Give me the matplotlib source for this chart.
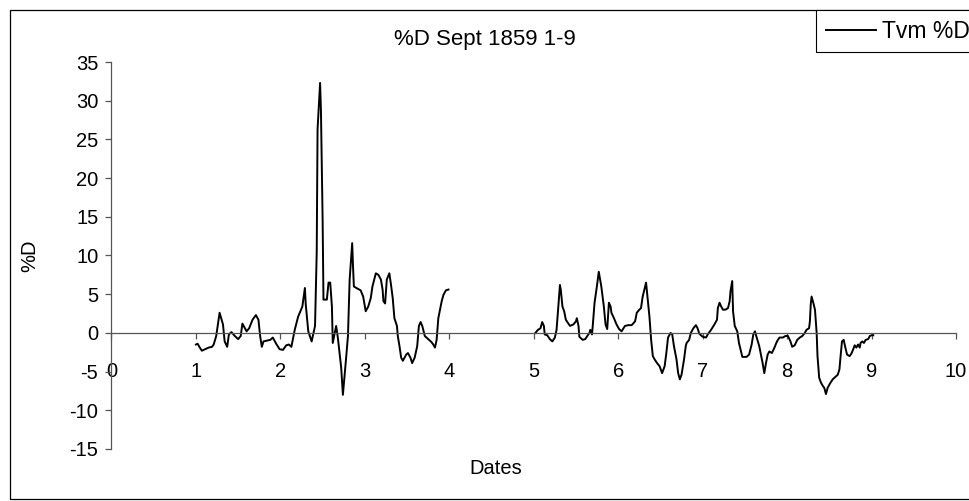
"""
%D Sept 1859 1-9 -- Excel-style line chart, x axis crossing at y=0.
Saves out.png (970x501).
"""

import matplotlib
matplotlib.use("Agg")
import matplotlib.pyplot as plt
from matplotlib.patches import Rectangle

plt.rcParams["font.family"] = ["Liberation Sans", "DejaVu Sans"]
plt.rcParams["axes.unicode_minus"] = False

# days 1-4
dates_a = [1.00, 1.02, 1.04, 1.07, 1.11, 1.15, 1.19, 1.21, 1.24, 1.28,
           1.32, 1.34, 1.37, 1.39, 1.42, 1.46, 1.50, 1.53, 1.55, 1.57,
           1.60, 1.63, 1.67, 1.71, 1.74, 1.76, 1.78, 1.80, 1.84, 1.88,
           1.91, 1.95, 1.99, 2.03, 2.07, 2.10, 2.13, 2.17, 2.21, 2.26,
           2.29, 2.30, 2.33, 2.37, 2.41, 2.43, 2.44, 2.47, 2.48, 2.50,
           2.51, 2.55, 2.57, 2.59, 2.61, 2.62, 2.66, 2.68, 2.72, 2.74,
           2.78, 2.80, 2.82, 2.85, 2.86, 2.87, 2.90, 2.95, 2.98, 3.01,
           3.04, 3.07, 3.09, 3.13, 3.16, 3.19, 3.21, 3.22, 3.24, 3.26,
           3.29, 3.31, 3.33, 3.35, 3.38, 3.39, 3.41, 3.43, 3.45, 3.49,
           3.51, 3.54, 3.56, 3.59, 3.62, 3.64, 3.66, 3.68, 3.71, 3.73,
           3.76, 3.79, 3.81, 3.83, 3.85, 3.87, 3.89, 3.91, 3.93, 3.96,
           3.99]
pct_a = [-1.5, -1.4, -1.8, -2.3, -2.1, -1.9, -1.8, -1.5, -0.4, 2.6,
         1.1, -1.1, -1.8, -0.2, 0.1, -0.4, -0.8, -0.4, 1.2, 0.8,
         0.2, 0.6, 1.7, 2.3, 1.7, -0.4, -1.8, -1.1, -1.0, -0.9,
         -0.6, -1.4, -2.1, -2.2, -1.6, -1.5, -1.8, 0.4, 2.1, 3.4,
         5.8, 3.7, 0.2, -1.1, 0.9, 10.4, 26.3, 32.3, 28.8, 14.6,
         4.3, 4.3, 6.5, 6.5, 3.4, -1.3, 0.9, -0.6, -4.5, -8.0,
         -3.0, -0.4, 6.9, 11.6, 8.6, 6.0, 5.8, 5.5, 4.7, 2.8,
         3.4, 4.5, 6.0, 7.7, 7.5, 6.9, 5.6, 4.1, 3.8, 6.9,
         7.7, 6.2, 4.5, 1.9, 0.9, -0.4, -1.7, -3.2, -3.6, -2.8,
         -2.6, -3.2, -3.9, -3.2, -1.7, 0.9, 1.4, 0.9, -0.4, -0.6,
         -0.9, -1.2, -1.5, -1.9, -0.9, 1.9, 3.0, 4.1, 4.9, 5.5,
         5.6]

# days 5-9
dates_b = [5.02, 5.05, 5.08, 5.10, 5.12, 5.13, 5.16, 5.19, 5.22, 5.25,
           5.27, 5.29, 5.30, 5.31, 5.32, 5.34, 5.36, 5.38, 5.41, 5.43,
           5.47, 5.50, 5.51, 5.53, 5.54, 5.58, 5.61, 5.64, 5.66, 5.67,
           5.69, 5.70, 5.72, 5.75, 5.77, 5.80, 5.83, 5.85, 5.87, 5.89,
           5.91, 5.92, 5.95, 5.98, 6.01, 6.04, 6.08, 6.12, 6.16, 6.20,
           6.22, 6.25, 6.27, 6.29, 6.33, 6.35, 6.37, 6.39, 6.41, 6.43,
           6.46, 6.49, 6.52, 6.55, 6.57, 6.59, 6.62, 6.64, 6.66, 6.69,
           6.71, 6.73, 6.75, 6.78, 6.80, 6.81, 6.84, 6.86, 6.89, 6.92,
           6.94, 6.96, 7.00, 7.04, 7.06, 7.10, 7.14, 7.17, 7.18, 7.20,
           7.22, 7.24, 7.27, 7.30, 7.32, 7.33, 7.35, 7.36, 7.38, 7.41,
           7.43, 7.45, 7.47, 7.52, 7.55, 7.58, 7.60, 7.62, 7.64, 7.67,
           7.69, 7.71, 7.73, 7.75, 7.77, 7.79, 7.82, 7.85, 7.88, 7.91,
           7.95, 7.98, 8.01, 8.04, 8.06, 8.09, 8.12, 8.15, 8.18, 8.21,
           8.23, 8.26, 8.27, 8.28, 8.29, 8.31, 8.33, 8.35, 8.36, 8.38,
           8.40, 8.42, 8.44, 8.46, 8.48, 8.51, 8.54, 8.57, 8.60, 8.62,
           8.63, 8.65, 8.67, 8.69, 8.71, 8.74, 8.76, 8.78, 8.80, 8.82,
           8.84, 8.86, 8.87, 8.89, 8.91, 8.93, 8.96, 8.98, 9.00, 9.02]
pct_b = [0.0, 0.4, 0.6, 1.4, 0.9, -0.2, -0.3, -0.8, -1.1, -0.6,
         0.4, 3.2, 4.7, 6.2, 5.6, 3.4, 2.8, 1.7, 1.2, 0.9,
         1.1, 1.5, 1.9, 0.9, -0.5, -0.9, -0.8, -0.3, 0.0, 0.4,
         -0.2, 1.1, 3.9, 6.2, 7.9, 6.0, 3.4, 1.1, 0.5, 3.9,
         3.4, 2.6, 1.9, 1.1, 0.5, 0.2, 0.9, 1.0, 1.0, 1.5,
         2.6, 3.0, 3.2, 4.7, 6.5, 4.3, 2.1, -0.9, -3.0, -3.4,
         -3.9, -4.3, -5.2, -4.3, -2.6, -0.6, 0.0, -0.2, -1.7, -3.4,
         -5.2, -6.0, -5.4, -3.4, -1.7, -1.3, -0.9, 0.0, 0.6, 1.0,
         0.6, -0.1, -0.5, -0.6, -0.2, 0.4, 1.1, 1.7, 3.2, 3.9,
         3.4, 3.0, 3.0, 3.2, 4.1, 5.4, 6.7, 2.8, 0.9, 0.2,
         -1.3, -2.2, -3.1, -3.1, -2.8, -1.5, -0.2, 0.2, -0.6, -1.7,
         -2.8, -3.9, -5.2, -3.9, -2.8, -2.4, -2.6, -1.9, -1.1, -0.6,
         -0.6, -0.4, -0.4, -1.1, -1.8, -1.6, -0.9, -0.6, -0.4, 0.0,
         0.4, 0.6, 1.5, 3.7, 4.7, 3.9, 3.0, 0.0, -3.0, -5.8,
         -6.4, -6.8, -7.1, -7.9, -7.1, -6.5, -6.0, -5.7, -5.4, -4.7,
         -3.4, -1.1, -0.9, -1.9, -2.8, -3.0, -2.7, -2.2, -1.6, -1.9,
         -1.5, -1.9, -1.3, -1.1, -1.3, -0.9, -0.8, -0.4, -0.3, -0.3]

x_ticks = list(range(0, 11))
y_ticks = list(range(-15, 40, 5))

FS = 14.5

W, H = 970, 501
fig = plt.figure(figsize=(W / 100, H / 100), dpi=100)
fig.patch.set_facecolor("white")

# plot area in pixels: x 111.5..956, y 62..449
ax = fig.add_axes([111.5 / W, (H - 449) / H, (956 - 111.5) / W, 387 / H])

line, = ax.plot(dates_a, pct_a, color="black", lw=1.4, label="Tvm %D")
ax.plot(dates_b, pct_b, color="black", lw=1.4)

ax.set_xlim(0, 10)
ax.set_ylim(-15, 35)
ax.set_xticks(x_ticks)
ax.set_yticks(y_ticks)

ax.spines["top"].set_visible(False)
ax.spines["right"].set_visible(False)
ax.spines["bottom"].set_position(("data", 0))
for s in ("left", "bottom"):
    ax.spines[s].set_color("#555555")
    ax.spines[s].set_linewidth(0.9)

ax.tick_params(axis="x", direction="out", length=4.5, width=0.9,
               color="#555555", pad=16.5, labelsize=FS)
ax.tick_params(axis="y", direction="out", length=4.5, width=0.9,
               color="#555555", pad=5, labelsize=FS)

ax.set_title("%D Sept 1859 1-9", fontsize=16, pad=0,
             x=(485 - 111.5) / 845, y=(449 - 40) / 387, va="center")
ax.set_xlabel("Dates", fontsize=FS, va="center")
ax.xaxis.set_label_coords((496 - 111.5) / 845, (449 - 468) / 387)
ax.set_ylabel("%D", fontsize=FS, va="center")
ax.yaxis.set_label_coords((30 - 111.5) / 845, 0.5)

# legend box, running off the right edge like the original
fig.legend(handles=[line], loc="upper left",
           bbox_to_anchor=(816 / W, (H - 10) / H), borderaxespad=0,
           frameon=True, fancybox=False, shadow=False, fontsize=16.5,
           edgecolor="black", framealpha=1, handlelength=2.2,
           handletextpad=0.25, borderpad=0.42)
fig.legends[0].get_frame().set_linewidth(0.8)

# outer chart border
fig.add_artist(Rectangle((10 / W, 2 / H), 1.2, (H - 12) / H,
                         transform=fig.transFigure, fill=False,
                         edgecolor="black", lw=0.9, clip_on=False))

fig.savefig("out.png", dpi=100, facecolor="white")
